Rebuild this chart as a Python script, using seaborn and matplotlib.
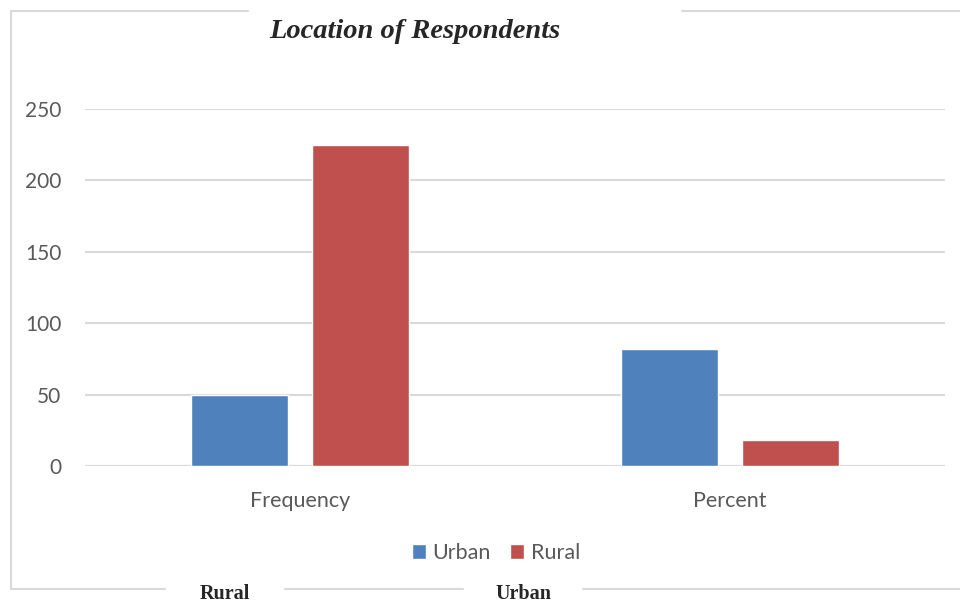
# Location of respondents: frequency and percent, urban vs rural
import pandas as pd
import matplotlib.pyplot as plt
import seaborn as sns

categories = ["Frequency", "Percent"]
urban = [50, 81.8]
rural = [225, 18.2]
series = ["Urban", "Rural"]
yticks = [0, 50, 100, 150, 200, 250]

df = pd.DataFrame({
    "Measure": categories * 2,
    "Value": urban + rural,
    "Location": ["Urban"] * len(categories) + ["Rural"] * len(categories),
})

sns.set_style("white")
plt.rcParams["font.family"] = ["Lato", "DejaVu Sans"]

fig = plt.figure(figsize=(9.6, 6.06), dpi=100)
ax = fig.add_axes([85 / 960, 140 / 606, 860 / 960, 357 / 606])

sns.barplot(data=df, x="Measure", y="Value", hue="Location", hue_order=series,
            palette={"Urban": "#4F81BD", "Rural": "#C0504D"},
            width=0.567, gap=0.205, saturation=1, ax=ax, legend=True)

ax.set_xlim(-0.5, 1.5)
ax.set_ylim(0, 250)
ax.set_yticks(yticks)
ax.yaxis.grid(True, color="#D9D9D9", linewidth=1.5)
ax.set_axisbelow(True)
for s in ax.spines.values():
    s.set_visible(False)
ax.axhline(0, color="#D9D9D9", linewidth=1.5, zorder=0)
ax.tick_params(axis="y", length=0, pad=17, labelsize=15, labelcolor="#595959")
ax.tick_params(axis="x", length=0, pad=18, labelsize=15.5, labelcolor="#595959")
ax.set_xlabel("")
ax.set_ylabel("")

handles, labels = ax.get_legend_handles_labels()
ax.legend_.remove()
fig.legend(handles, labels, loc="center", bbox_to_anchor=(496 / 960, 53 / 606),
           ncol=2, frameon=False, fontsize=15.5, labelcolor="#595959",
           handlelength=0.65, handleheight=0.65, handletextpad=0.3, columnspacing=0.9)

# outer frame with gaps like the source document
frame = dict(color="#D9D9D9", linewidth=1.5, transform=fig.transFigure)
def seg(x0, y0, x1, y1):
    fig.add_artist(plt.Line2D([x0 / 960, x1 / 960], [1 - y0 / 606, 1 - y1 / 606], **frame))
seg(11, 10.5, 248, 10.5)
seg(682, 10.5, 960, 10.5)
seg(11, 10.5, 11, 589)
seg(11, 589, 165, 589)
seg(285, 589, 463, 589)
seg(583, 589, 960, 589)

fig.text(415 / 960, 1 - 32 / 606, "Location of Respondents", ha="center", va="center",
         family="Liberation Serif", fontsize=20.5, fontweight="bold", fontstyle="italic")
fig.text(225 / 960, 1 - 594 / 606, "Rural", ha="center", va="center",
         family="Liberation Serif", fontsize=14.5, fontweight="bold")
fig.text(523 / 960, 1 - 594 / 606, "Urban", ha="center", va="center",
         family="Liberation Serif", fontsize=14.5, fontweight="bold")

fig.savefig("out.png", dpi=100)
